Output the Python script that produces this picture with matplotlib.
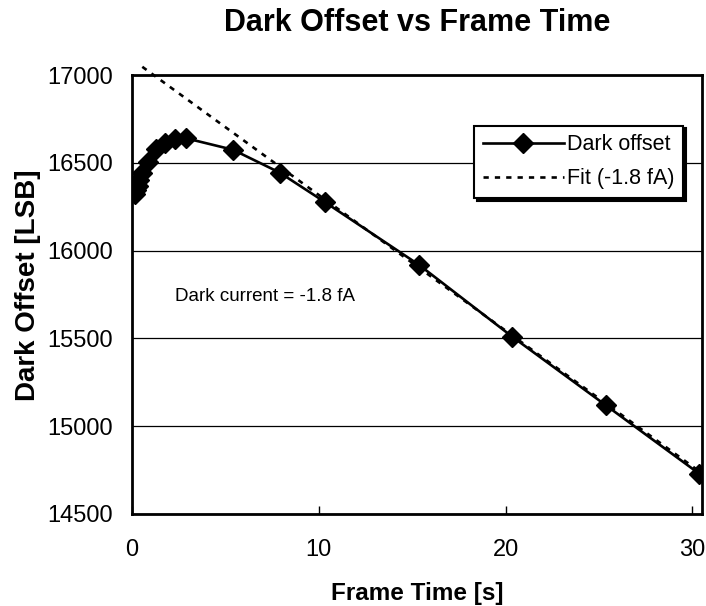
import numpy as np
import matplotlib
matplotlib.use("Agg")
import matplotlib.pyplot as plt

plt.rcParams['font.family'] = ['Liberation Sans', 'DejaVu Sans']

# frame time [s] and measured dark offset [LSB]
frame_time = [0.15, 0.22, 0.30, 0.40, 0.55, 0.85, 1.30, 1.75, 2.30, 2.90,
              5.40, 7.90, 10.35, 15.35, 20.35, 25.35, 30.35]
dark_offset = [16325, 16345, 16370, 16400, 16440, 16505, 16580, 16615, 16635, 16640,
               16575, 16445, 16275, 15920, 15510, 15120, 14730]

# linear fit of the long frame times
fit_intercept = 17090
fit_slope = -77.3
fit_t = np.array(frame_time)
fit_y = fit_intercept + fit_slope * fit_t

fig = plt.figure(figsize=(7.06, 6.06), dpi=100)
ax = fig.add_axes([0.187, 0.152, 0.807, 0.724])

ax.plot(frame_time, dark_offset, '-', color='black', lw=1.9, marker='D',
        markersize=10, label='Dark offset', zorder=3)
ax.plot(fit_t[4:], fit_y[4:], linestyle=(0, (2, 2.3)), color='black', lw=1.9,
        label='Fit (-1.8 fA)', clip_on=False, zorder=2)

ax.set_xlim(0, 30.5)
ax.set_ylim(14500, 17000)
ax.set_xticks([0, 10, 20, 30])
ax.set_yticks(np.arange(14500, 17001, 500))
ax.grid(axis='y', color='black', lw=0.9)
ax.set_axisbelow(True)
ax.tick_params(axis='x', direction='in', length=6, width=1, pad=18, labelsize=17)
ax.tick_params(axis='y', direction='in', length=0, pad=14, labelsize=17)
for s in ax.spines.values():
    s.set_linewidth(2)

ax.set_title('Dark Offset vs Frame Time', fontsize=22, fontweight='bold', pad=32)
ax.set_xlabel('Frame Time [s]', fontsize=17.5, fontweight='bold', labelpad=15)
ax.set_ylabel('Dark Offset [LSB]', fontsize=20, fontweight='bold')
ax.yaxis.set_label_coords(-0.16, 0.522)

ax.text(2.3, 15740, 'Dark current = -1.8 fA', fontsize=13.5, va='center')

leg = ax.legend(loc='upper right', bbox_to_anchor=(0.967, 0.885), fontsize=15.5,
                frameon=True, fancybox=False,
                shadow={'color': 'black', 'alpha': 1}, edgecolor='black',
                framealpha=1, borderpad=0.4, handlelength=3.75, handletextpad=0.15,
                borderaxespad=0, markerscale=1, labelspacing=0.6)
leg.get_frame().set_linewidth(1.5)

fig.savefig('out.png', dpi=100)
